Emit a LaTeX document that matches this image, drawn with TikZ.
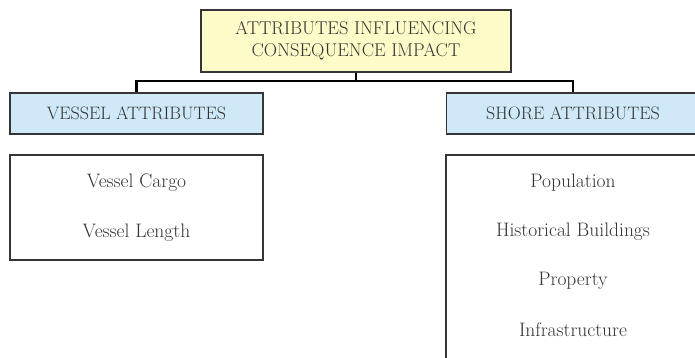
\documentclass[tikz,border=0pt]{standalone}
\usepackage{tikz}
\usetikzlibrary{positioning}
\definecolor{topfill}{HTML}{FDFBC8}
\definecolor{headfill}{HTML}{CFE9F8}
\definecolor{edgegray}{HTML}{353535}
\definecolor{txtgray}{HTML}{333333}

\begin{document}
\begin{tikzpicture}[
  x=1pt, y=-1pt,
  box/.style={draw=edgegray, line width=1.8pt, inner sep=0pt, text=txtgray},
  head/.style={box, fill=headfill, minimum width=253pt, minimum height=41pt, font=\fontsize{18}{21}\selectfont},
  itemtxt/.style={text=txtgray, font=\fontsize{19.5}{23}\selectfont},
  link/.style={draw=black, line width=2.4pt}
]
  \useasboundingbox (0,0) rectangle (695,358);
  \clip (0,0) rectangle (695,358);

  % top box
  \node[box, fill=topfill, minimum width=310pt, minimum height=62pt,
        align=center, font=\fontsize{18.5}{22}\selectfont] (top) at (356,41)
        {ATTRIBUTES INFLUENCING\\CONSEQUENCE IMPACT};

  % headers
  \node[head] (vessel) at (136.5,113.5) {VESSEL ATTRIBUTES};
  \node[head] (shore) at (573,113.5) {SHORE ATTRIBUTES};

  % list boxes
  \node[box, minimum width=253pt, minimum height=105pt] (vlist) at (136.5,207.5) {};
  \node[box, minimum width=254pt, minimum height=230pt] (slist) at (573,270) {};

  \foreach \lbl [count=\n from 0] in {Vessel Cargo, Vessel Length} {
    \node[itemtxt] (v\n) at (136.5, 183+\n*49.5) {\lbl};
  }
  \foreach \lbl [count=\n from 0] in {Population, Historical Buildings, Property, Infrastructure} {
    \node[itemtxt] (s\n) at (573, 183+\n*49) {\lbl};
  }

  % connectors
  \coordinate (bar) at (0,81);
  \draw[link] (top.south) -- (top.south |- bar);
  \draw[link] (vessel.north) -- (vessel.north |- bar) -- (shore.north |- bar) -- (shore.north);
\end{tikzpicture}
\end{document}
